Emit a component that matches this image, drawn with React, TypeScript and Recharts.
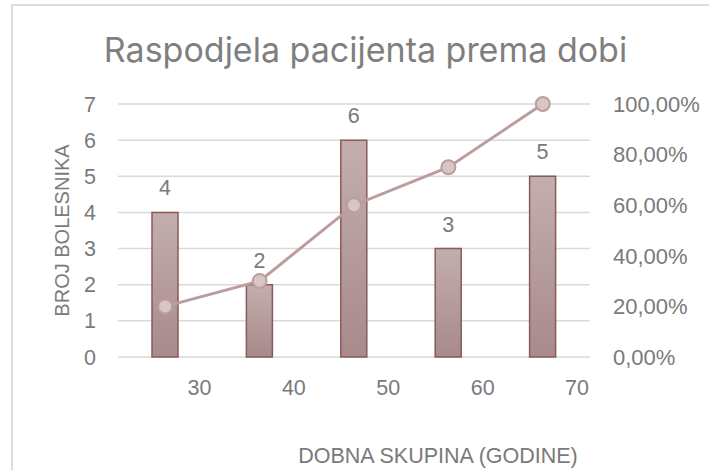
import {
  Bar,
  CartesianGrid,
  ComposedChart,
  LabelList,
  Line,
  XAxis,
  YAxis,
} from 'recharts'

// bin upper bounds (labels sit at the right edge of each bin)
const ageBins = ['30', '40', '50', '60', '70']
const patients = [4, 2, 6, 3, 5]
const cumulative = [0.2, 0.3, 0.6, 0.75, 1.0]
const leftTicks = [0, 1, 2, 3, 4, 5, 6, 7]
const rightTicks = [0, 0.2, 0.4, 0.6, 0.8, 1.0]

const data = ageBins.map((bin, i) => ({
  bin,
  count: patients[i],
  cum: cumulative[i],
}))

const W = 709
const H = 470
const LEFT_W = 118
const RIGHT_W = 119
const HALF_BAND = (W - LEFT_W - RIGHT_W) / ageBins.length / 2

const gray = '#7a7a7a'
const font = '"Liberation Sans", Arial, sans-serif'

const pct = (v: number) => (v * 100).toFixed(2).replace('.', ',') + '%'

function BinTick(props: any) {
  const { x, y, payload } = props
  return (
    <text
      x={x + HALF_BAND - 1}
      y={y + 30}
      textAnchor="end"
      fill={gray}
      fontSize={21.5}
      fontFamily={font}
    >
      {payload.value}
    </text>
  )
}

export default function App() {
  return (
    <div
      style={{
        position: 'absolute',
        left: 0,
        top: 0,
        width: W,
        height: H,
        overflow: 'hidden',
        background: '#fff',
        fontFamily: font,
      }}
    >
      <div
        style={{
          position: 'absolute',
          left: 11,
          top: 4,
          width: W + 20,
          height: H + 20,
          border: '2px solid #dcdcdc',
          boxSizing: 'border-box',
        }}
      />
      <div
        style={{
          position: 'absolute',
          left: 0,
          top: 29,
          width: 731,
          textAlign: 'center',
          fontFamily: 'Inter, sans-serif',
          fontSize: 34,
          color: '#7f7f7f',
          lineHeight: '42px',
        }}
      >
        Raspodjela pacijenta prema dobi
      </div>
      <div style={{ position: 'absolute', left: 0, top: 0 }}>
        <ComposedChart
          width={W}
          height={H}
          data={data}
          margin={{ top: 104, right: 0, left: 0, bottom: 0 }}
        >
          <defs>
            <linearGradient id="barFill" x1="0" y1="0" x2="0" y2="1">
              <stop offset="0%" stopColor="#c3aeae" />
              <stop offset="100%" stopColor="#a88a8b" />
            </linearGradient>
          </defs>
          <CartesianGrid
            vertical={false}
            stroke="#d9d9d9"
            strokeWidth={1.5}
            yAxisId="left"
          />
          <XAxis
            dataKey="bin"
            height={113}
            axisLine={false}
            tickLine={false}
            tick={<BinTick />}
            label={{
              value: 'DOBNA SKUPINA (GODINE)',
              position: 'insideBottom',
              offset: 7,
              dx: 84,
              fill: gray,
              fontSize: 21.5,
              fontFamily: font,
            }}
          />
          <YAxis
            yAxisId="left"
            width={LEFT_W}
            domain={[0, 7]}
            ticks={leftTicks}
            axisLine={false}
            tickLine={false}
            tickMargin={16}
            tick={{ fill: gray, fontSize: 21.5, fontFamily: font }}
            label={{
              value: 'BROJ BOLESNIKA',
              angle: -90,
              position: 'center',
              dx: 3,
              fill: gray,
              fontSize: 20,
              fontFamily: font,
            }}
          />
          <YAxis
            yAxisId="right"
            orientation="right"
            width={RIGHT_W}
            domain={[0, 1]}
            ticks={rightTicks}
            axisLine={false}
            tickLine={false}
            tickMargin={17}
            tickFormatter={pct}
            tick={{ fill: gray, fontSize: 22, fontFamily: font }}
          />
          <Bar
            yAxisId="left"
            dataKey="count"
            barSize={26}
            fill="url(#barFill)"
            stroke="#8a5a5a"
            strokeWidth={1.5}
            isAnimationActive={false}
          >
            <LabelList
              dataKey="count"
              position="top"
              offset={17}
              fill={gray}
              fontSize={21.5}
              fontFamily={font}
            />
          </Bar>
          <Line
            yAxisId="right"
            dataKey="cum"
            stroke="#bc9c9c"
            strokeWidth={3}
            dot={{ r: 7, fill: '#d8c5c5', stroke: '#bd9d9d', strokeWidth: 2 }}
            isAnimationActive={false}
          />
        </ComposedChart>
      </div>
    </div>
  )
}
